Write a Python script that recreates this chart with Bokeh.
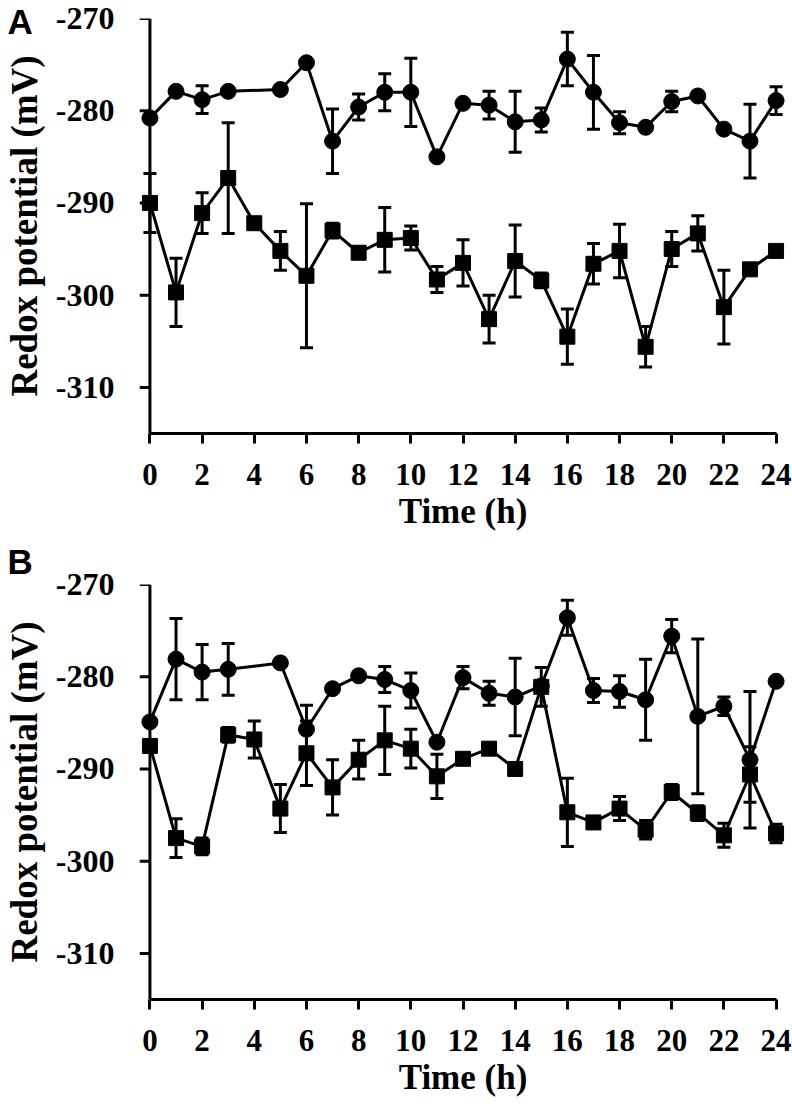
from bokeh.plotting import figure
from bokeh.models import (ColumnDataSource, Whisker, TeeHead, FixedTicker, Range1d, Label, Span,
                          LinearAxis)
from bokeh.layouts import column
from bokeh.embed import file_html
from bokeh.resources import INLINE

# ---------------- data ----------------
x_ticks = [0, 2, 4, 6, 8, 10, 12, 14, 16, 18, 20, 22, 24]
y_ticks = [-270, -280, -290, -300, -310]
y_tick_labels = ["-270", "-280", "-290", "-300", "-310"]

# Panel A - circles (no sample at 4 h)
a_circ_t = [0, 1, 2, 3, 5, 6, 7, 8, 9, 10, 11, 12, 13, 14, 15, 16, 17, 18, 19, 20, 21, 22, 23, 24]
a_circ_v = [-280.8, -277.9, -278.8, -277.9, -277.7, -274.8, -283.3, -279.6, -278.0, -278.0, -285.0, -279.2,
            -279.4, -281.2, -281.0, -274.4, -278.0, -281.3, -281.8, -279.0, -278.4, -282.0, -283.3, -278.9]
a_circ_e = [0, 0, 1.5, 0, 0, 0, 3.5, 1.4, 2.0, 3.7, 0, 0,
            1.5, 3.3, 1.3, 2.9, 4.0, 1.2, 0, 1.1, 0, 0, 4.0, 1.5]

# Panel A - squares
a_sq_t = list(range(25))
a_sq_v = [-290.0, -299.7, -291.1, -287.3, -292.2, -295.2, -297.9, -293.0, -295.4, -294.0, -293.8, -298.3, -296.5,
          -302.6, -296.3, -298.4, -304.5, -296.6, -295.2, -305.6, -295.0, -293.3, -301.3, -297.2, -295.2]
a_sq_e = [3.2, 3.7, 2.2, 6.0, 0, 2.1, 7.8, 0.8, 0, 3.5, 1.3, 1.4, 2.5,
          2.6, 3.9, 0.8, 3.0, 2.2, 2.9, 2.2, 1.9, 1.9, 4.0, 0, 0]

# Panel B - circles (no sample at 4 h)
b_circ_t = [0, 1, 2, 3, 5, 6, 7, 8, 9, 10, 11, 12, 13, 14, 15, 16, 17, 18, 19, 20, 21, 22, 23, 24]
b_circ_v = [-284.9, -278.1, -279.5, -279.2, -278.5, -285.7, -281.3, -279.9, -280.3, -281.5, -287.1, -280.1,
            -281.8, -282.2, -281.0, -273.6, -281.5, -281.6, -282.5, -275.6, -284.3, -283.2, -289.0, -280.5]
b_circ_e = [0, 4.4, 3.0, 2.8, 0, 2.6, 0, 0, 1.4, 1.9, 0, 1.2,
            1.3, 4.2, 0, 1.9, 1.3, 1.7, 4.4, 1.8, 8.4, 1.0, 7.4, 0]

# Panel B - squares
b_sq_t = list(range(25))
b_sq_v = [-287.5, -297.5, -298.4, -286.3, -286.8, -294.3, -288.3, -292.0, -289.0, -286.9, -287.8, -290.8, -288.9,
          -287.8, -290.0, -281.1, -294.7, -295.8, -294.3, -296.6, -292.5, -294.8, -297.2, -290.6, -297.0]
b_sq_e = [0, 2.1, 0.9, 0.8, 2.0, 2.6, 3.5, 3.0, 2.1, 3.7, 2.1, 2.4, 0,
          0, 0, 2.1, 3.7, 0, 1.3, 1.0, 0.8, 0.8, 1.3, 3.0, 1.0]

SERIF = "Liberation Serif"
SANS = "Liberation Sans"
X_PAD = 0.4   # keeps the markers at 0 h and 24 h whole inside the frame


def add_series(p, t, v, e, marker, size):
    p.line(t, v, line_width=3, line_color="black")
    tt = [ti for ti, ei in zip(t, e) if ei > 0]
    up = [vi + ei for vi, ei in zip(v, e) if ei > 0]
    lo = [vi - ei for vi, ei in zip(v, e) if ei > 0]
    src = ColumnDataSource(dict(t=tt, upper=up, lower=lo))
    w = Whisker(source=src, base="t", upper="upper", lower="lower",
                line_width=3, line_color="black", level="glyph",
                upper_head=TeeHead(size=13, line_width=3, line_color="black"),
                lower_head=TeeHead(size=13, line_width=3, line_color="black"))
    p.add_layout(w)
    p.scatter(t, v, marker=marker, size=size, fill_color="black", line_color="black")


def style_axis(ax):
    ax.axis_line_width = 3
    ax.axis_line_color = "black"
    ax.major_tick_line_width = 3
    ax.major_tick_line_color = "black"
    ax.minor_tick_out = 0
    ax.minor_tick_in = 0
    ax.major_label_text_font = SERIF
    ax.major_label_text_font_style = "bold"
    ax.major_label_text_color = "black"
    ax.axis_label_text_font = SERIF
    ax.axis_label_text_font_style = "bold"
    ax.axis_label_text_color = "black"


def make_panel(letter, letter_y, series, height, top, bottom):
    p = figure(width=792, height=height, output_backend="svg", toolbar_location=None,
               x_range=Range1d(x_ticks[0] - X_PAD, x_ticks[-1] + X_PAD), y_range=Range1d(-315, -270),
               y_axis_location=None,
               min_border_left=135, min_border_right=6,
               min_border_top=top, min_border_bottom=bottom)
    p.outline_line_color = None
    p.xgrid.visible = False
    p.ygrid.visible = False
    p.background_fill_color = "white"
    p.border_fill_color = "white"

    # x axis: line only between 0 and 24 h
    xa = p.xaxis[0]
    style_axis(xa)
    xa.ticker = FixedTicker(ticks=x_ticks)
    xa.bounds = (x_ticks[0], x_ticks[-1])
    xa.major_tick_out = 10
    xa.major_tick_in = 0
    xa.major_label_text_font_size = "31px"
    xa.major_label_standoff = 20
    xa.axis_label = "Time (h)"
    xa.axis_label_text_font_size = "35px"
    xa.axis_label_standoff = 4

    # panel letter: lives in the innermost left side panel (not clipped to the frame)
    lab = Label(x=-5.46, y=letter_y, text=letter,
                text_font=SANS, text_font_style="bold", text_font_size="35px",
                text_color="black", text_baseline="top", text_align="left")
    p.add_layout(lab, "left")

    # y axis labels/title (outside the letter panel); spine drawn at t = 0
    ya = LinearAxis(ticker=FixedTicker(ticks=y_ticks))
    style_axis(ya)
    ya.major_label_overrides = {t: s for t, s in zip(y_ticks, y_tick_labels)}
    ya.axis_line_color = None
    ya.major_tick_out = 0
    ya.major_tick_in = 0
    ya.major_label_text_font_size = "32px"
    ya.major_label_standoff = 0
    ya.axis_label = "Redox potential (mV)"
    ya.axis_label_text_font_size = "37px"
    ya.axis_label_standoff = 8
    p.add_layout(ya, "left")

    p.add_layout(Span(location=x_ticks[0], dimension="height", line_color="black", line_width=3))
    # y tick marks pointing outward (left) from the spine at t = 0
    p.segment(x0=[x_ticks[0]] * len(y_ticks), y0=y_ticks,
              x1=[x_ticks[0] - X_PAD] * len(y_ticks), y1=y_ticks,
              line_width=3, line_color="black")

    for (t, v, e, marker, size) in series:
        add_series(p, t, v, e, marker, size)
    return p


pA = make_panel("A", -268.26,
                [(a_circ_t, a_circ_v, a_circ_e, "circle", 16),
                 (a_sq_t, a_sq_v, a_sq_e, "square", 15)],
                height=540, top=18, bottom=107)
pB = make_panel("B", -265.34,
                [(b_circ_t, b_circ_v, b_circ_e, "circle", 16),
                 (b_sq_t, b_sq_v, b_sq_e, "square", 15)],
                height=566, top=44, bottom=107)

layout = column(pA, pB, spacing=0)
open("out.html", "w").write(file_html(layout, INLINE))
